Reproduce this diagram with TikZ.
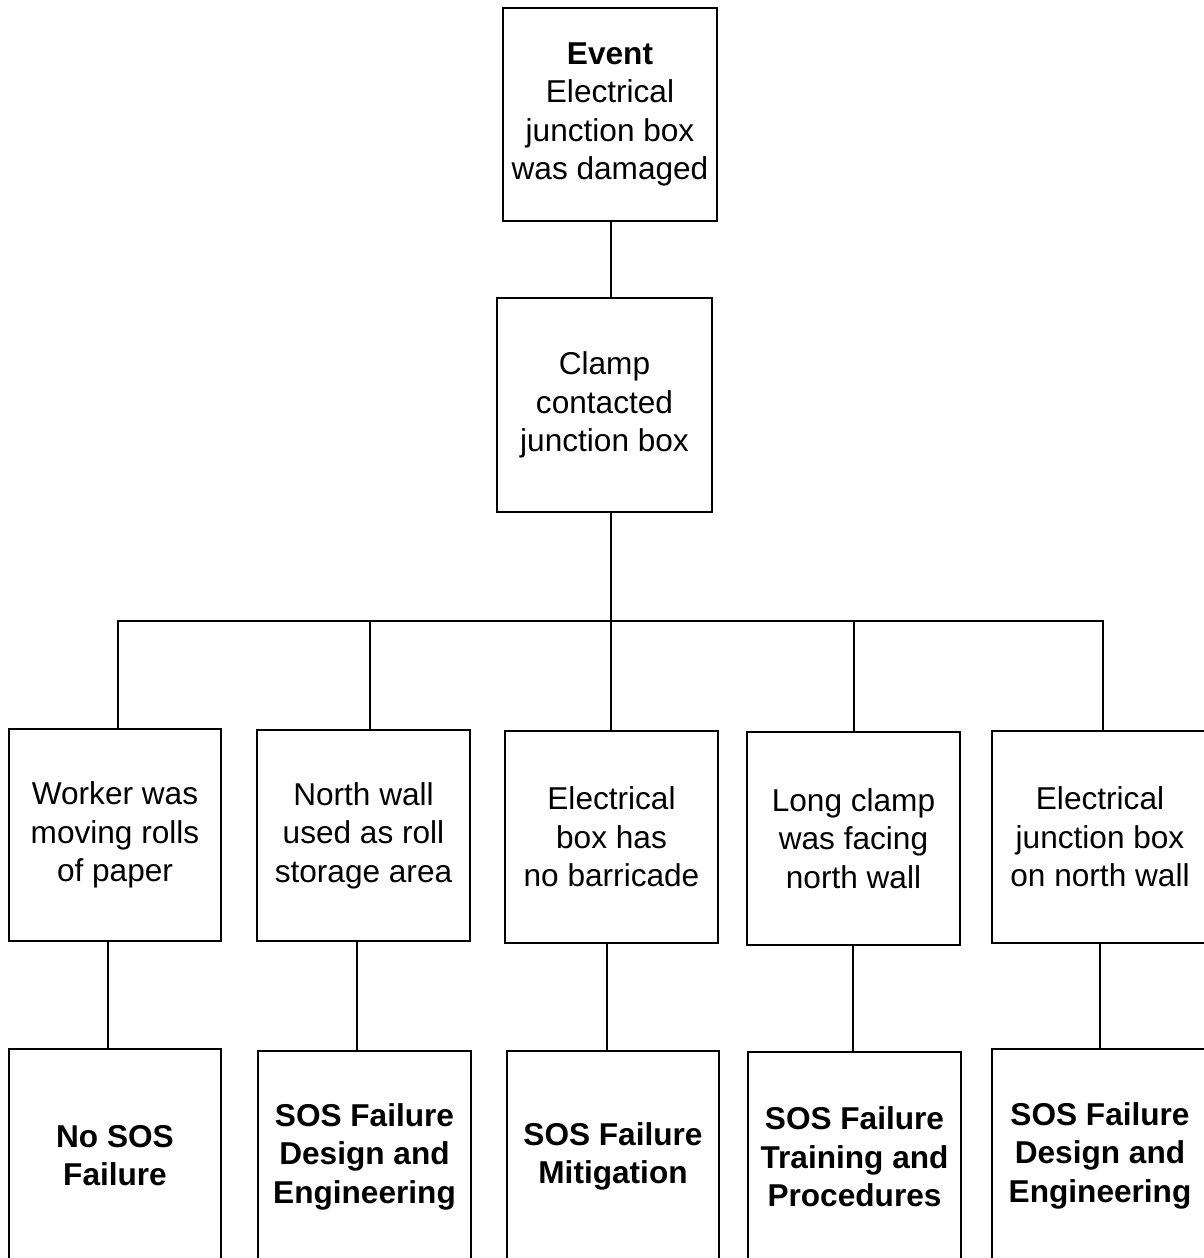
\documentclass[tikz,border=0pt]{standalone}
\usepackage{fontspec}
\setmainfont{Liberation Sans}
\begin{document}
\begin{tikzpicture}[x=1pt,y=-1pt,
  cbox/.style={draw=black, line width=2.6pt, fill=white, inner sep=0pt, align=center,
    font=\fontsize{31.6}{38.4}\selectfont},
  bbox/.style={cbox, font=\fontsize{31.6}{38.6}\selectfont\bfseries},
  conn/.style={line width=2.4pt, line cap=rect}]
\useasboundingbox (0,0) rectangle (1204,1258);
% top level
\node[cbox, minimum width=214pt, minimum height=213pt] (top) at (610,114.5)
  {\textbf{Event}\\Electrical\\junction box\\was damaged};
\node[cbox, minimum width=215pt, minimum height=214pt] (mid) at (604.5,405)
  {Clamp\\contacted\\junction box};
% row 1
\node[cbox, minimum width=212pt, minimum height=212pt] (b1) at (115,835)
  {Worker was\\moving rolls\\of paper};
\node[cbox, minimum width=213pt, minimum height=211pt] (b2) at (363.5,835.5)
  {North wall\\used as roll\\storage area};
\node[cbox, minimum width=213pt, minimum height=212pt] (b3) at (611.5,837)
  {Electrical\\box has\\no barricade};
\node[cbox, minimum width=213pt, minimum height=213pt] (b4) at (853.5,838.5)
  {Long clamp\\was facing\\north wall};
\node[cbox, minimum width=216pt, minimum height=212pt] (b5) at (1100,837)
  {Electrical\\junction box\\on north wall};
% row 2
\node[bbox, minimum width=212pt, minimum height=213pt] (c1) at (115,1155.5)
  {No SOS\\Failure};
\node[bbox, minimum width=213pt, minimum height=211pt] (c2) at (364.5,1156.5)
  {SOS Failure\\Design and\\Engineering};
\node[bbox, minimum width=212pt, minimum height=211pt] (c3) at (613,1156.5)
  {SOS Failure\\Mitigation};
\node[bbox, minimum width=213pt, minimum height=210pt] (c4) at (854.5,1157)
  {SOS Failure\\Training and\\Procedures};
\node[bbox, minimum width=216pt, minimum height=213pt] (c5) at (1100,1155.5)
  {SOS Failure\\Design and\\Engineering};
% connectors top
\coordinate (t0) at ([xshift=1pt]top.south);
\draw[conn] (t0) -- (t0 |- mid.north);
\coordinate (m0) at (t0 |- mid.south);
\coordinate (j1) at (118,621);
\coordinate (j2) at (370,621);
\coordinate (j3) at (611,621);
\coordinate (j4) at (854,621);
\coordinate (j5) at (1103,621);
\draw[conn] (m0) -- (m0 |- j3);
\draw[conn] (j1) -- (j5);
\foreach \i in {1,...,5} {
  \draw[conn] (j\i) -- (j\i |- b\i.north);
}
% connectors lower
\coordinate (d1) at (108,0);
\coordinate (d2) at (357,0);
\coordinate (d3) at (607,0);
\coordinate (d4) at (853,0);
\coordinate (d5) at (1100,0);
\foreach \i in {1,...,5} {
  \draw[conn] (d\i |- b\i.south) -- (d\i |- c\i.north);
}
\end{tikzpicture}
\end{document}
